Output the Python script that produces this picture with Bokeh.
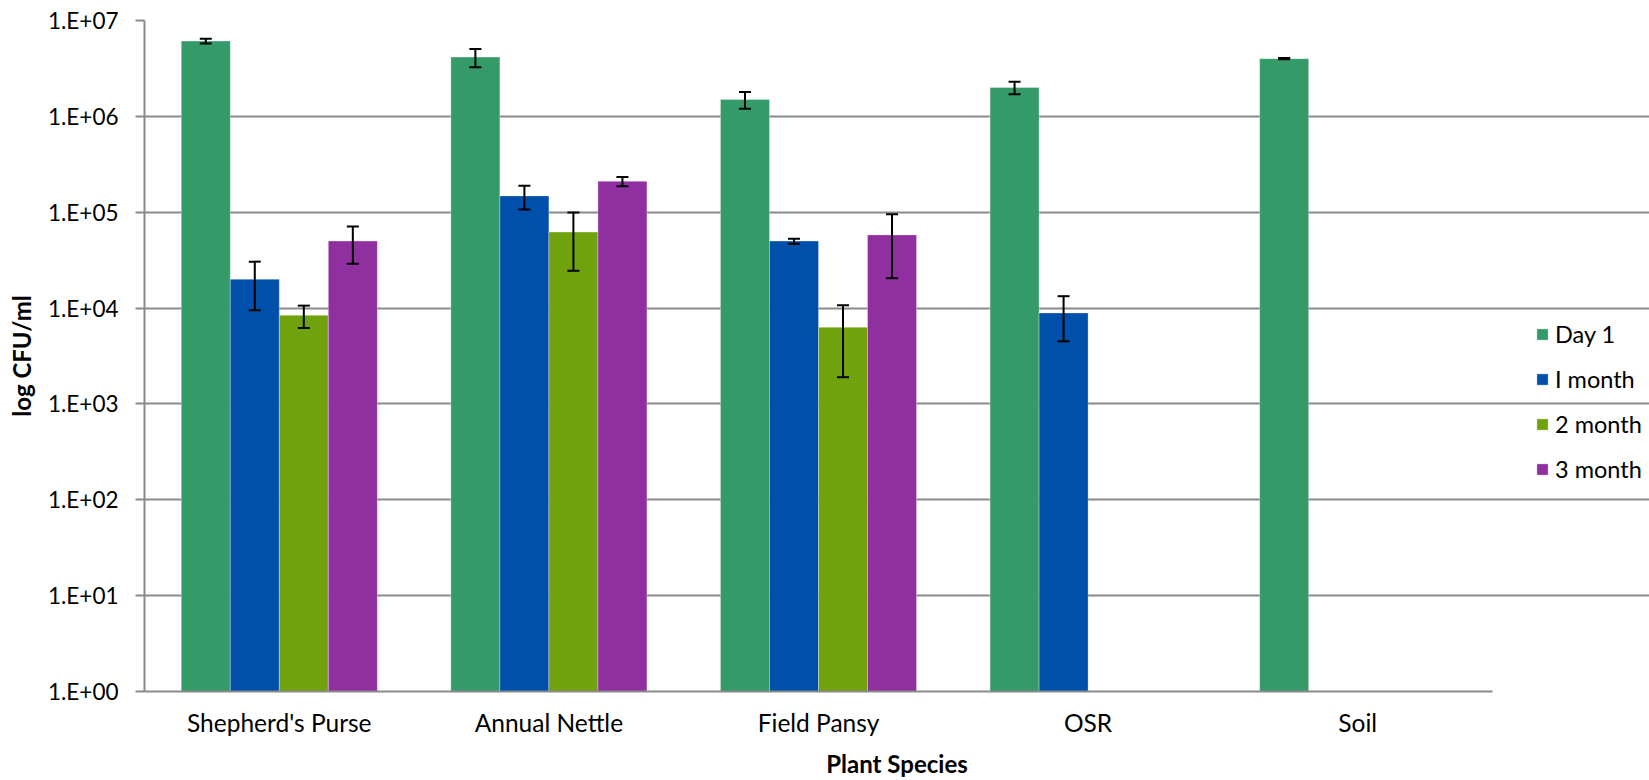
from bokeh.plotting import figure
from bokeh.models import (ColumnDataSource, Range1d, FixedTicker,
                          Whisker, TeeHead, Legend, LegendItem)
from bokeh.embed import file_html
from bokeh.resources import INLINE

# Bacterial counts (CFU/ml) per plant species and sampling time
species = ["Shepherd's Purse", "Annual Nettle", "Field Pansy", "OSR", "Soil"]
series_names = ["Day 1", "I month", "2 month", "3 month"]

day1 = [6.1e6, 4.15e6, 1.5e6, 2.0e6, 4.0e6]
day1_err = [0.36e6, 0.9e6, 0.3e6, 0.3e6, 0.06e6]

month1 = [2.0e4, 1.48e5, 5.0e4, 8.9e3, None]
month1_err = [1.05e4, 4.1e4, 3.0e3, 4.4e3, None]

month2 = [8.4e3, 6.2e4, 6.3e3, None, None]
month2_err = [2.2e3, 3.75e4, 4.4e3, None, None]

month3 = [5.0e4, 2.1e5, 5.8e4, None, None]
month3_err = [2.1e4, 2.3e4, 3.75e4, None, None]

y_ticks = [1, 10, 100, 1000, 10000, 100000, 1000000, 10000000]
y_tick_labels = ["1.E+00", "1.E+01", "1.E+02", "1.E+03",
                 "1.E+04", "1.E+05", "1.E+06", "1.E+07"]

colors = ["#349A68", "#0050AB", "#70A20E", "#902FA0"]

FONT = "Lato"
GRID = "#8a8a8a"

n_cat = len(species)
cat_px = 269.6                     # width of one category slot in pixels
frame_w = 1649 - 144               # frame runs to the right edge; legend sits in it
x_end = frame_w / cat_px

p = figure(width=1649, height=780,
           x_range=Range1d(0, x_end),
           y_range=Range1d(1, 1e7), y_axis_type="log",
           output_backend="svg", toolbar_location=None,
           min_border_left=144, min_border_right=0,
           min_border_top=20, min_border_bottom=88)
p.outline_line_color = None
p.background_fill_color = "white"
p.border_fill_color = "white"

bar_w = 1 / 5.5
offsets = [-1.5 * bar_w, -0.5 * bar_w, 0.5 * bar_w, 1.5 * bar_w]
all_values = [day1, month1, month2, month3]
all_errs = [day1_err, month1_err, month2_err, month3_err]
cat_centers = [i + 0.5 for i in range(n_cat)]

legend_items = []
for name, vals, errs, off, col in zip(series_names, all_values, all_errs, offsets, colors):
    xs, ys, up, lo = [], [], [], []
    for c, v, e in zip(cat_centers, vals, errs):
        if v is None:
            continue
        xs.append(c + off)
        ys.append(v)
        up.append(v + e)
        lo.append(v - e)
    src = ColumnDataSource(dict(x=xs, value=ys, upper=up, lower=lo))
    r = p.vbar(x="x", top="value", bottom=1, width=bar_w, source=src,
               fill_color=col, line_color="white", line_alpha=0.3, line_width=1)
    legend_items.append(LegendItem(label=name, renderers=[r]))
    p.add_layout(Whisker(source=src, base="x", upper="upper", lower="lower",
                         level="annotation",
                         line_color="black", line_width=2,
                         upper_head=TeeHead(size=12, line_width=2, line_color="black"),
                         lower_head=TeeHead(size=12, line_width=2, line_color="black")))

# y axis
p.yaxis.ticker = FixedTicker(ticks=y_ticks, minor_ticks=[])
p.yaxis.major_label_overrides = dict(zip(y_ticks, y_tick_labels))
p.yaxis.axis_line_color = GRID
p.yaxis.axis_line_width = 2
p.yaxis.major_tick_line_color = GRID
p.yaxis.major_tick_line_width = 2
p.yaxis.major_tick_out = 9
p.yaxis.major_tick_in = 0
p.yaxis.minor_tick_out = 0
p.yaxis.minor_tick_in = 0
p.yaxis.major_label_standoff = 17
p.yaxis.major_label_text_font = FONT
p.yaxis.major_label_text_font_size = "22.5px"
p.yaxis.major_label_text_color = "black"
p.yaxis.axis_label = "log CFU/ml"
p.yaxis.axis_label_text_font = FONT
p.yaxis.axis_label_text_font_style = "bold"
p.yaxis.axis_label_text_font_size = "24px"
p.yaxis.axis_label_text_color = "black"
p.yaxis.axis_label_standoff = 9

# x axis: category names at slot centres, line only under the categories
p.xaxis.ticker = FixedTicker(ticks=cat_centers, minor_ticks=[])
p.xaxis.major_label_overrides = dict(zip(cat_centers, species))
p.xaxis.bounds = (0, n_cat)
p.xaxis.axis_line_color = GRID
p.xaxis.axis_line_width = 2
p.xaxis.major_tick_out = 0
p.xaxis.major_tick_in = 0
p.xaxis.minor_tick_out = 0
p.xaxis.minor_tick_in = 0
p.xaxis.major_label_standoff = 16
p.xaxis.major_label_text_font = FONT
p.xaxis.major_label_text_font_size = "24.5px"
p.xaxis.major_label_text_color = "black"
p.xaxis.axis_label = "Plant Species"
p.xaxis.axis_label_text_font = FONT
p.xaxis.axis_label_text_font_style = "bold"
p.xaxis.axis_label_text_font_size = "24px"
p.xaxis.axis_label_text_color = "black"
p.xaxis.axis_label_standoff = 9

p.xgrid.grid_line_color = None
p.ygrid.ticker = FixedTicker(ticks=y_ticks, minor_ticks=[])
p.ygrid.bounds = (0, n_cat)
p.ygrid.grid_line_color = GRID
p.ygrid.grid_line_width = 2

legend = Legend(items=legend_items, location=(1391, 208),
                glyph_width=14, glyph_height=14, label_standoff=6,
                label_height=29, spacing=16, padding=0, margin=0,
                border_line_color=None, background_fill_alpha=0,
                label_text_font=FONT, label_text_font_size="23.5px",
                label_text_color="black")
p.add_layout(legend, "center")

open("out.html", "w").write(file_html(p, INLINE))
